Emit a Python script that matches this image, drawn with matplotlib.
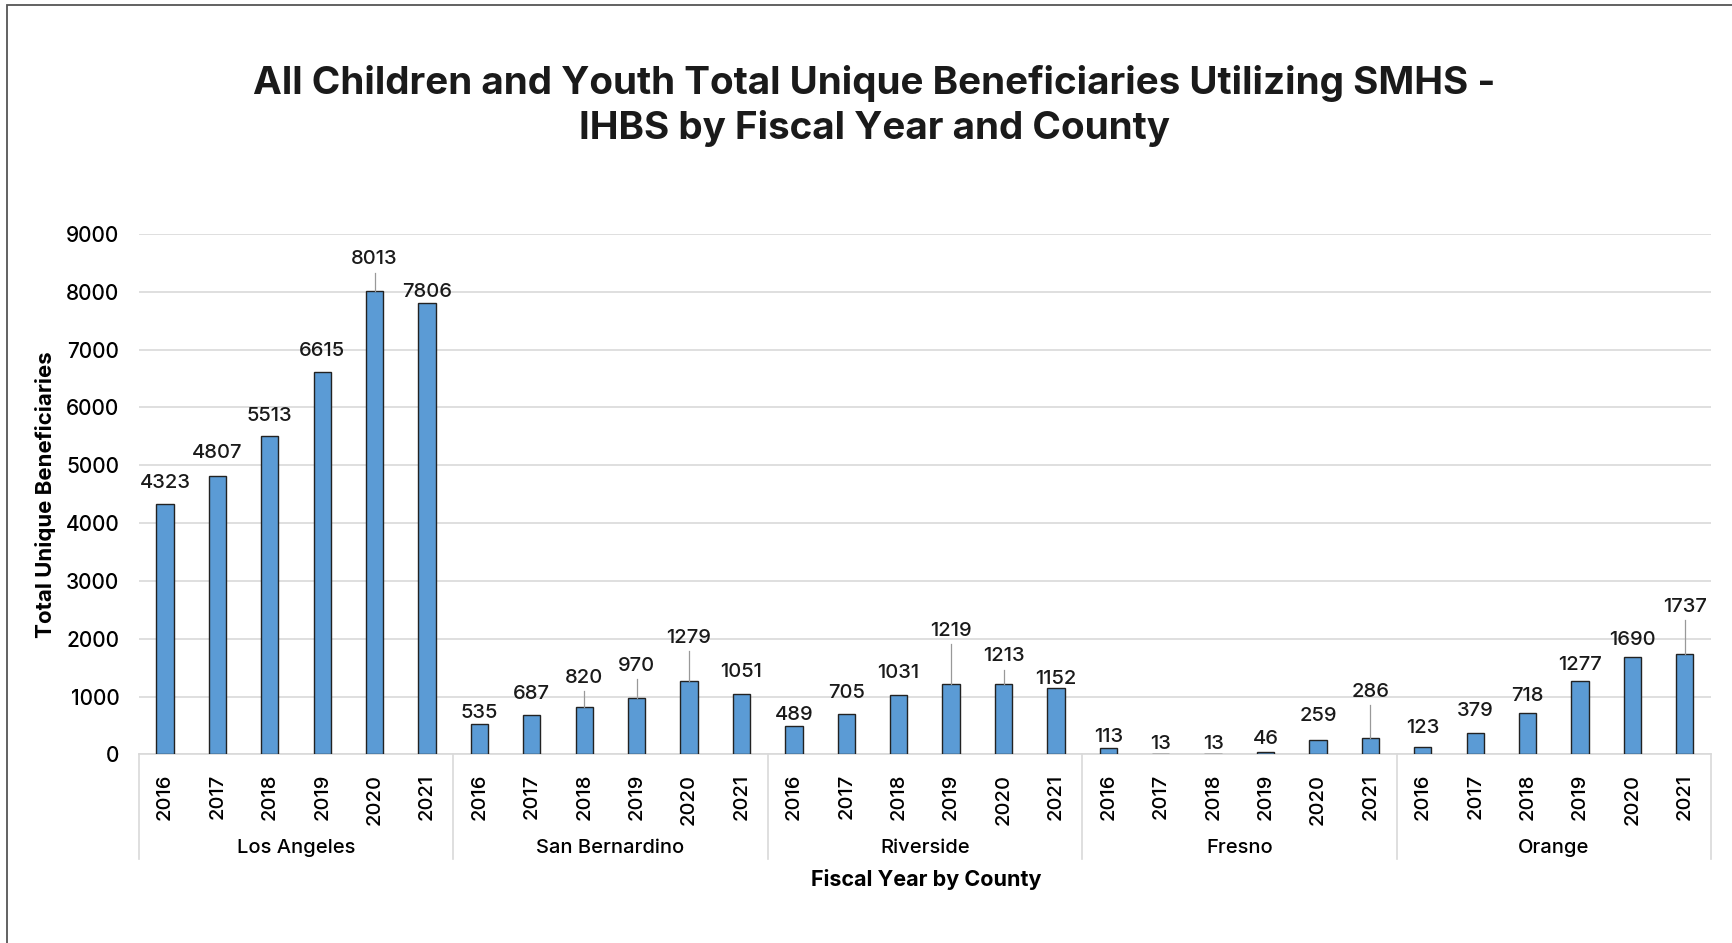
import matplotlib
matplotlib.use("Agg")
import matplotlib.pyplot as plt
import numpy as np

plt.rcParams["font.family"] = ["Inter", "DejaVu Sans"]

counties = ["Los Angeles", "San Bernardino", "Riverside", "Fresno", "Orange"]
years = ["2016", "2017", "2018", "2019", "2020", "2021"]

los_angeles = [4323, 4807, 5513, 6615, 8013, 7806]
san_bernardino = [535, 687, 820, 970, 1279, 1051]
riverside = [489, 705, 1031, 1219, 1213, 1152]
fresno = [113, 13, 13, 46, 259, 286]
orange = [123, 379, 718, 1277, 1690, 1737]

y_ticks = [0, 1000, 2000, 3000, 4000, 5000, 6000, 7000, 8000, 9000]

# how far above the bar top each label sits (data units), as moved in the original
label_lift = [
    370, 400, 340, 365, 550, 185,
    190, 360, 500, 560, 740, 380,
    200, 365, 380, 920, 485, 145,
    190, 160, 160, 220, 410, 800,
    335, 365, 295, 270, 295, 820,
]
leader = [
    False, False, False, False, True, False,
    False, False, True, True, True, False,
    False, False, False, True, True, False,
    False, False, False, False, False, True,
    False, False, False, False, False, True,
]

values = np.array(los_angeles + san_bernardino + riverside + fresno + orange)
x = np.arange(len(values))
n_years = len(years)

fig = plt.figure(figsize=(17.32, 9.43), dpi=100)
ax = fig.add_axes([0.0801, 0.1999, 0.9078, 0.552])

# outer frame of the original chart box
fig.patches.append(plt.Rectangle((0.004, -0.1), 1.2, 1.095, transform=fig.transFigure,
                                 fill=False, edgecolor="#555555", linewidth=1.3))

ax.bar(x, values, width=0.33, color="#5B9BD5", edgecolor="#222222", linewidth=1.0, zorder=3)

ax.set_xlim(-0.5, len(values) - 0.5)
ax.set_ylim(0, 9000)
ax.set_yticks(y_ticks)
ax.set_yticklabels([str(v) for v in y_ticks], fontsize=15, fontweight="medium")
ax.yaxis.grid(True, color="#d9d9d9", linewidth=1.2, zorder=0)
ax.tick_params(axis="y", length=0, pad=14)
ax.tick_params(axis="x", length=0, pad=14)
for s in ["top", "right", "left"]:
    ax.spines[s].set_visible(False)
ax.spines["bottom"].set_color("#d9d9d9")
ax.spines["bottom"].set_linewidth(1.2)

ax.set_xticks(x)
ax.set_xticklabels(years * len(counties), rotation=90, fontsize=14.5, fontweight="medium")

for i, v in enumerate(values):
    ty = v + label_lift[i]
    ax.text(i, ty, str(v), ha="center", va="center", fontsize=14.5,
            fontweight="medium", color="#1a1a1a", zorder=5)
    if leader[i]:
        ax.plot([i, i], [v, ty - 230], color="#999999", linewidth=0.9, zorder=4)

trans = ax.get_xaxis_transform()
for g in range(len(counties) + 1):
    bx = g * n_years - 0.5
    ax.plot([bx, bx], [0, -0.2], transform=trans, color="#d9d9d9",
            linewidth=1.2, clip_on=False)
for g, name in enumerate(counties):
    cx = g * n_years + (n_years - 1) / 2
    ax.text(cx, -0.18, name, transform=trans, ha="center", va="center",
            fontsize=14.5, fontweight="medium")

fig.text(0.5345, 0.067, "Fiscal Year by County", ha="center", va="center",
         fontsize=15.5, fontweight="bold")
fig.text(0.0265, 0.475, "Total Unique Beneficiaries", rotation=90, ha="center",
         va="center", fontsize=16, fontweight="bold")
fig.text(0.505, 0.8875, "All Children and Youth Total Unique Beneficiaries Utilizing SMHS -\nIHBS by Fiscal Year and County",
         ha="center", va="center", fontsize=27.8, fontweight="bold", linespacing=1.3,
         color="#1a1a1a")

fig.savefig("out.png", dpi=100)
